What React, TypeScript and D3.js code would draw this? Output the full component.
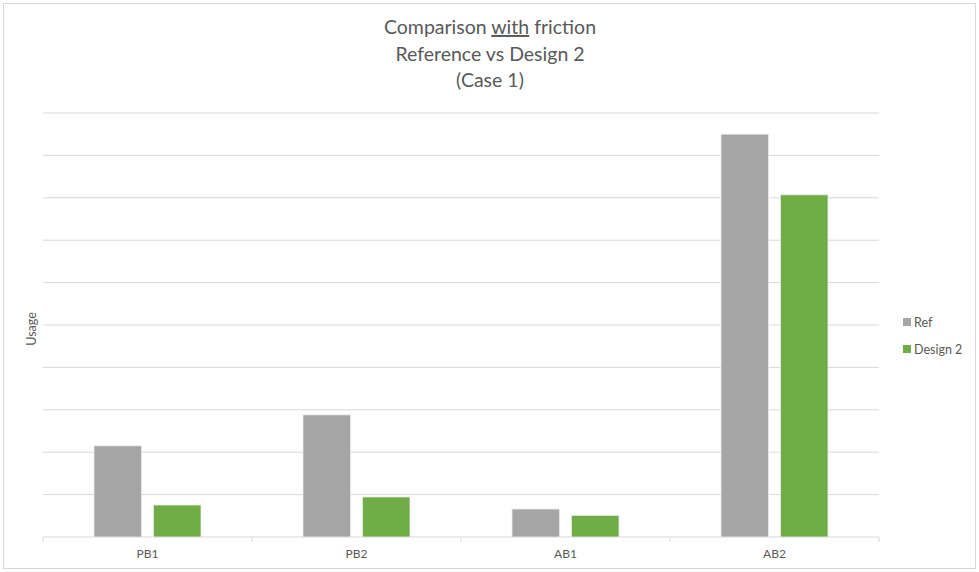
import React from "react";
import * as d3 from "d3";

// Usage per brake type, in gridline units
const categories = ["PB1", "PB2", "AB1", "AB2"];
const seriesNames = ["Ref", "Design 2"];
const refValues = [2.15, 2.88, 0.66, 9.5];
const design2Values = [0.755, 0.944, 0.51, 8.07];
const gridTicks = [0, 1, 2, 3, 4, 5, 6, 7, 8, 9, 10];

const colors = ["#a5a5a5", "#70ad47"];
const font = "Lato, 'Open Sans', sans-serif";
const textColor = "#595959";

export default function App() {
  const W = 979;
  const H = 572;
  const plot = { left: 43, right: 879, top: 113, bottom: 537 };

  const x = d3
    .scaleBand<string>()
    .domain(categories)
    .range([plot.left, plot.right])
    .paddingInner(0)
    .paddingOuter(0);

  const inner = d3
    .scaleBand<string>()
    .domain(seriesNames)
    .range([51, x.bandwidth() - 51])
    .paddingInner(0.2);

  const y = d3.scaleLinear().domain([0, 10]).range([plot.bottom, plot.top]);

  const series = [refValues, design2Values];

  return (
    <svg
      width={W}
      height={H}
      style={{ position: "absolute", left: 0, top: 0, background: "#fff" }}
      fontFamily={font}
    >
      <rect x={3.5} y={3.5} width={W - 7} height={H - 7} fill="#fff" stroke="#d9d9d9" />

      {/* title */}
      <g fill={textColor} fontSize={19.5} textAnchor="middle">
        <text x={490} y={34}>
          Comparison <tspan textDecoration="underline">with</tspan> friction
        </text>
        <text x={490} y={61}>Reference vs Design 2</text>
        <text x={490} y={87}>(Case 1)</text>
      </g>

      {/* gridlines */}
      {gridTicks.map((t) => (
        <line
          key={t}
          x1={plot.left}
          x2={plot.right}
          y1={y(t)}
          y2={y(t)}
          stroke="#d9d9d9"
          strokeWidth={1}
        />
      ))}

      {/* category ticks */}
      {[...categories.map((c) => x(c)!), plot.right].map((px, i) => (
        <line key={i} x1={px} x2={px} y1={plot.bottom} y2={plot.bottom + 5} stroke="#d9d9d9" />
      ))}

      {/* bars */}
      {categories.map((c, ci) =>
        series.map((vals, si) => (
          <rect
            key={c + si}
            x={x(c)! + inner(seriesNames[si])!}
            y={y(vals[ci])}
            width={inner.bandwidth()}
            height={y(0) - y(vals[ci])}
            fill={colors[si]}
            stroke="#ececec"
            strokeWidth={0.8}
          />
        ))
      )}

      {/* category labels */}
      {categories.map((c) => (
        <text
          key={c}
          x={x(c)! + x.bandwidth() / 2}
          y={558}
          textAnchor="middle"
          fontSize={12}
          fill={textColor}
        >
          {c}
        </text>
      ))}

      {/* y axis title */}
      <text
        transform="translate(36,329) rotate(-90)"
        textAnchor="middle"
        fontSize={12.5}
        fill={textColor}
      >
        Usage
      </text>

      {/* legend */}
      {seriesNames.map((n, i) => (
        <g key={n} transform={`translate(903,${318 + i * 27})`}>
          <rect x={0} y={0} width={8} height={8} fill={colors[i]} />
          <text x={11} y={9} fontSize={12.5} fill={textColor}>
            {n}
          </text>
        </g>
      ))}
    </svg>
  );
}
